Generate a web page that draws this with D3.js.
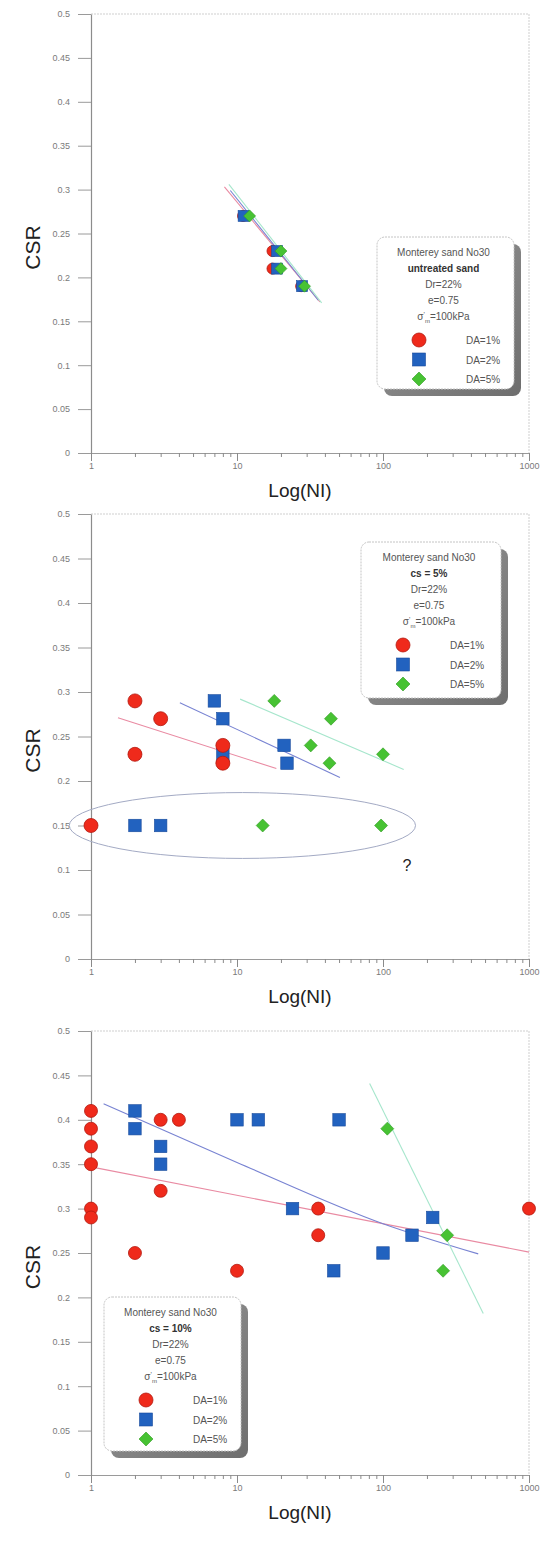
<!DOCTYPE html>
<html>
<head>
<meta charset="utf-8">
<script src="https://cdn.jsdelivr.net/npm/d3@7"></script>
<style>
  body { margin: 0; background: #fff; }
  svg { display: block; }
  text { font-family: "Liberation Sans", Arial, sans-serif; }
</style>
</head>
<body>
<svg id="chart" width="544" height="1545"></svg>
<script>
// ---- Labels and ticks ----
const seriesLabels = ["DA=1%", "DA=2%", "DA=5%"];
const legendHeading = "Monterey sand No30";
const sampleLabels = ["untreated sand", "cs = 5%", "cs = 10%"];
const testConditions = ["Dr=22%", "e=0.75"];
const stressValue = "=100kPa";
const csrTicks = [0, 0.05, 0.1, 0.15, 0.2, 0.25, 0.3, 0.35, 0.4, 0.45, 0.5];
const csrTickLabels = ["0", "0.05", "0.1", "0.15", "0.2", "0.25", "0.3", "0.35", "0.4", "0.45", "0.5"];
const cycleTicks = [1, 10, 100, 1000];
const cycleTickLabels = ["1", "10", "100", "1000"];

// ---- Untreated sand: [cycles, CSR] ----
const untreatedDA1 = [[11, 0.27], [17.5, 0.23], [17.5, 0.21], [27.5, 0.19]];
const untreatedDA2 = [[11.1, 0.27], [18.8, 0.23], [18.8, 0.21], [27.9, 0.19]];
const untreatedDA5 = [[12.2, 0.27], [20, 0.23], [20, 0.21], [29, 0.19]];
const untreatedFitDA1 = [[8.2, 0.303], [37, 0.172]];
const untreatedFitDA2 = [[9, 0.299], [36, 0.174]];
const untreatedFitDA5 = [[8.8, 0.306], [38, 0.171]];

// ---- cs = 5% ----
const cs5DA1 = [[1, 0.15], [2, 0.29], [2, 0.23], [3, 0.27], [8, 0.24], [8, 0.22]];
const cs5DA2 = [[2, 0.15], [3, 0.15], [7, 0.29], [8, 0.27], [8, 0.23], [21, 0.24], [22, 0.22]];
const cs5DA5 = [[15, 0.15], [97, 0.15], [18, 0.29], [44, 0.27], [32, 0.24], [43, 0.22], [100, 0.23]];
const cs5FitDA1 = [[1.53, 0.271], [18.6, 0.214]];
const cs5FitDA2 = [[4.06, 0.288], [50.7, 0.204]];
const cs5FitDA5 = [[10.5, 0.292], [138.6, 0.213]];
const cs5LowGroup = [[0.71, 0.187], [167, 0.113]];   // extent of the circled tests
const cs5Query = [[146, 0.106]];

// ---- cs = 10% ----
const cs10DA1 = [[1, 0.41], [1, 0.39], [1, 0.37], [1, 0.35], [1, 0.30], [1, 0.29], [2, 0.25], [3, 0.40],
                 [3, 0.32], [4, 0.40], [10, 0.23], [36, 0.30], [36, 0.27], [1000, 0.30]];
const cs10DA2 = [[2, 0.41], [2, 0.39], [3, 0.37], [3, 0.35], [10, 0.40], [14, 0.40], [50, 0.40], [24, 0.30],
                 [46, 0.23], [100, 0.25], [158, 0.27], [219, 0.29]];
const cs10DA5 = [[107, 0.39], [275, 0.27], [258, 0.23]];
const cs10FitDA1 = [[1, 0.347], [1000, 0.251]];
const cs10FitDA2 = [[1.22, 0.418], [10, 0.352], [100, 0.283], [449, 0.249]];
const cs10FitDA5 = [[81, 0.441], [486, 0.182]];

// ---- Styling ----
const fills = ["#ef2a1b", "#2262bf", "#47c233"];
const strokes = ["#b3190f", "#194b9c", "#2f9a22"];
const fitColors = ["#e98aa2", "#7883d2", "#a6e6cc"];

const svg = d3.select("#chart");
const left = 91, right = 529;

const panels = [
  { top: 14, bottom: 453, series: [untreatedDA1, untreatedDA2, untreatedDA5],
    fits: [untreatedFitDA1, untreatedFitDA2, untreatedFitDA5], sub: sampleLabels[0],
    r: 5.5, sq: 11, dm: 6, order: [0, 1, 2],
    legend: { x: 377, y: 237, w: 137, h: 152 } },
  { top: 514, bottom: 959, series: [cs5DA1, cs5DA2, cs5DA5],
    fits: [cs5FitDA1, cs5FitDA2, cs5FitDA5], sub: sampleLabels[1],
    r: 7, sq: 12.5, dm: 6.5, order: [1, 0, 2],
    legend: { x: 361, y: 542, w: 140, h: 156 } },
  { top: 1031, bottom: 1475, series: [cs10DA1, cs10DA2, cs10DA5],
    fits: [cs10FitDA1, cs10FitDA2, cs10FitDA5], sub: sampleLabels[2],
    r: 6.5, sq: 12.5, dm: 6.5, order: [0, 1, 2],
    legend: { x: 104, y: 1297, w: 137, h: 154 } }
];

function drawMarker(g, kind, cx, cy, p) {
  if (kind === 0) {
    g.append("circle").attr("cx", cx).attr("cy", cy).attr("r", p.r)
      .attr("fill", fills[0]).attr("stroke", strokes[0]).attr("stroke-width", 0.8);
  } else if (kind === 1) {
    g.append("rect").attr("x", cx - p.sq / 2).attr("y", cy - p.sq / 2)
      .attr("width", p.sq).attr("height", p.sq)
      .attr("fill", fills[1]).attr("stroke", strokes[1]).attr("stroke-width", 0.6);
  } else {
    const h = p.dm;
    g.append("path")
      .attr("d", `M${cx},${cy - h}L${cx + h},${cy}L${cx},${cy + h}L${cx - h},${cy}Z`)
      .attr("fill", fills[2]).attr("stroke", strokes[2]).attr("stroke-width", 0.6)
      .attr("stroke-linejoin", "round");
  }
}

// shared shadow gradient for legend boxes
const defs = svg.append("defs");
const grad = defs.append("linearGradient").attr("id", "shadowGrad")
  .attr("x1", 0).attr("y1", 0).attr("x2", 1).attr("y2", 1);
grad.append("stop").attr("offset", "0%").attr("stop-color", "#9a9a9a");
grad.append("stop").attr("offset", "100%").attr("stop-color", "#6e6e6e");

panels.forEach((p, pi) => {
  const x = d3.scaleLog().domain([1, 1000]).range([left, right]);
  const y = d3.scaleLinear().domain([0, 0.5]).range([p.bottom, p.top]);
  const g = svg.append("g");

  // light frame on top and right
  g.append("path")
    .attr("d", `M${left},${p.top}H${right}V${p.bottom}`)
    .attr("fill", "none").attr("stroke", "#cfcfcf").attr("stroke-width", 1)
    .attr("stroke-dasharray", "2,1");

  // y axis
  const yAxis = g.append("g").attr("transform", `translate(${left},0)`)
    .call(d3.axisLeft(y).tickValues(csrTicks)
      .tickFormat((d, i) => csrTickLabels[i]).tickSize(13).tickSizeOuter(0).tickPadding(8));
  yAxis.select(".domain").attr("stroke", "#8c8c8c").attr("stroke-width", 1.2);
  yAxis.selectAll(".tick line").attr("stroke", "#9a9a9a");
  yAxis.selectAll(".tick text").attr("fill", "#7a7a7a").attr("font-size", 9)
    .attr("font-family", "'Liberation Sans', Arial, sans-serif");

  // x axis (log, minor ticks shorter)
  const xAxis = g.append("g").attr("transform", `translate(0,${p.bottom})`)
    .call(d3.axisBottom(x).tickValues(x.ticks())
      .tickFormat(d => { const i = cycleTicks.indexOf(d); return i >= 0 ? cycleTickLabels[i] : ""; })
      .tickSize(4).tickSizeOuter(0).tickPadding(6));
  xAxis.select(".domain").attr("stroke", "#9a9a9a");
  xAxis.selectAll(".tick line").attr("stroke", "#8a8a8a")
    .attr("y2", d => cycleTicks.includes(d) ? 8 : 4);
  xAxis.selectAll(".tick text").attr("fill", "#7a7a7a").attr("font-size", 9)
    .attr("font-family", "'Liberation Sans', Arial, sans-serif");

  // axis titles
  g.append("text")
    .attr("transform", `translate(40,${(p.top + p.bottom) / 2 + 14}) rotate(-90)`)
    .attr("text-anchor", "middle").attr("font-size", 21).attr("fill", "#222").text("CSR");
  g.append("text").attr("x", 300).attr("y", p.bottom + 44)
    .attr("text-anchor", "middle").attr("font-size", 19).attr("fill", "#222").text("Log(NI)");

  // trend lines
  const line = d3.line().x(d => x(d[0])).y(d => y(d[1])).curve(d3.curveMonotoneX);
  p.fits.forEach((f, k) => {
    g.append("path").datum(f).attr("d", line)
      .attr("fill", "none").attr("stroke", fitColors[k]).attr("stroke-width", 1.1);
  });

  // circled group of low-CSR tests
  if (pi === 1) {
    const [a, b] = cs5LowGroup;
    const x0 = x(a[0]), x1 = x(b[0]), y0 = y(a[1]), y1 = y(b[1]);
    g.append("ellipse").attr("cx", (x0 + x1) / 2).attr("cy", (y0 + y1) / 2)
      .attr("rx", (x1 - x0) / 2).attr("ry", (y1 - y0) / 2)
      .attr("fill", "none").attr("stroke", "#a3aac4").attr("stroke-width", 1);
    g.append("text").attr("x", x(cs5Query[0][0])).attr("y", y(cs5Query[0][1]) + 6)
      .attr("text-anchor", "middle").attr("font-size", 16).attr("fill", "#222").text("?");
  }

  // data points
  p.order.forEach(k => {
    p.series[k].forEach(d => drawMarker(g, k, x(d[0]), y(d[1]), p));
  });

  // legend
  const L = p.legend;
  const lg = g.append("g").attr("transform", `translate(${L.x},${L.y})`);
  lg.append("rect").attr("x", 7).attr("y", 7).attr("width", L.w).attr("height", L.h)
    .attr("rx", 8).attr("fill", "url(#shadowGrad)");
  lg.append("rect").attr("width", L.w).attr("height", L.h).attr("rx", 8)
    .attr("fill", "#fff").attr("stroke", "#c4c4c4").attr("stroke-dasharray", "2,1");
  const cx = L.w / 2 - 2;
  lg.append("text").attr("x", cx).attr("y", 19).attr("text-anchor", "middle")
    .attr("font-size", 10).attr("fill", "#555").text(legendHeading);
  lg.append("text").attr("x", cx).attr("y", 35).attr("text-anchor", "middle")
    .attr("font-size", 10).attr("font-weight", "bold").attr("fill", "#333").text(p.sub);
  testConditions.forEach((t, i) => {
    lg.append("text").attr("x", cx).attr("y", 51 + i * 16).attr("text-anchor", "middle")
      .attr("font-size", 10).attr("fill", "#555").text(t);
  });
  const st = lg.append("text").attr("x", cx).attr("y", 83).attr("text-anchor", "middle")
    .attr("font-size", 10).attr("fill", "#555");
  st.append("tspan").text("σ");
  st.append("tspan").attr("dy", -3).attr("font-size", 7).text("'");
  st.append("tspan").attr("dy", 6).attr("font-size", 6).text("m");
  st.append("tspan").attr("dy", -3).text(stressValue);
  seriesLabels.forEach((s, k) => {
    const ly = 103 + k * 19.5;
    drawMarker(lg, k, 42, ly, { r: 7, sq: 13, dm: 7 });
    lg.append("text").attr("x", 106).attr("y", ly + 4).attr("text-anchor", "middle")
      .attr("font-size", 10).attr("fill", "#555").text(s);
  });
});
</script>
</body>
</html>
